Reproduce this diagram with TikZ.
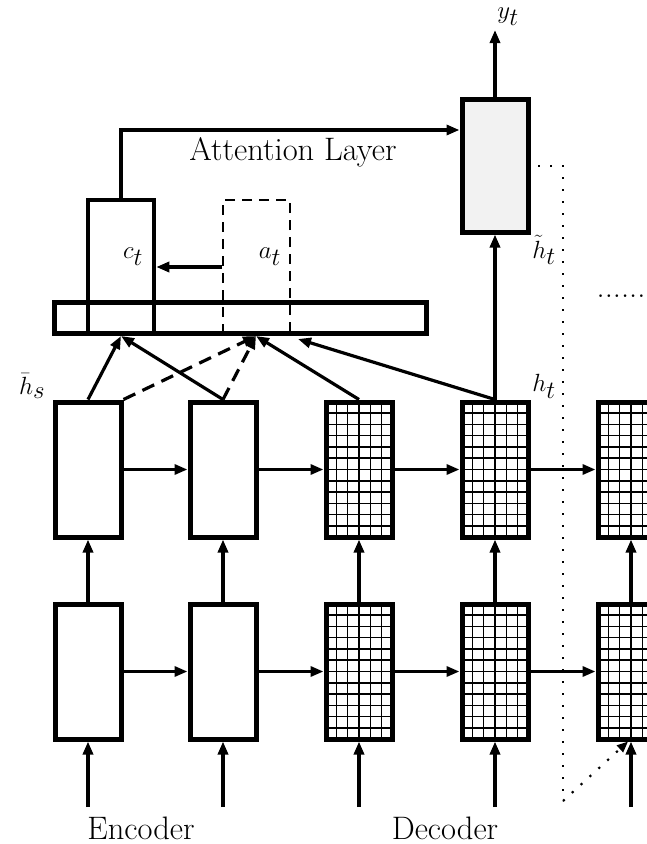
\documentclass[tikz,border=0pt]{standalone}
\usetikzlibrary{arrows.meta}
\begin{document}
\begin{tikzpicture}[x=1pt,y=-1pt,
  tip/.style={-{Triangle[length=13pt,width=10pt]}},
  conn/.style={line width=3.2pt, tip},
  cell/.style={draw, line width=5pt, fill=white, minimum width=66pt, minimum height=135pt, inner sep=0pt},
  gridcell/.style={cell, path picture={
      \draw[line width=1.5pt] ([xshift=-2pt,yshift=-2pt]path picture bounding box.south west)
        grid[step=11.3pt] ([xshift=2pt,yshift=2pt]path picture bounding box.north east);}},
  lab/.style={font=\fontsize{32.5}{38}\selectfont},
  mlab/.style={font=\fontsize{33}{38}\selectfont},
  dotline/.style={line width=2.2pt, dash pattern=on 2.2pt off 9.8pt},
]
\useasboundingbox (0,0) rectangle (647,844);
\clip (0,0) rectangle (647,844);

% recurrent cells, upper and lower rows
\node[cell]     (u1) at (88,469.5)  {};
\node[cell]     (u2) at (223,469.5) {};
\node[gridcell] (u3) at (359,469.5) {};
\node[gridcell] (u4) at (495,469.5) {};
\node[gridcell] (u5) at (631,469.5) {};
\node[cell]     (l1) at (88,671.5)  {};
\node[cell]     (l2) at (223,671.5) {};
\node[gridcell] (l3) at (359,671.5) {};
\node[gridcell] (l4) at (495,671.5) {};
\node[gridcell] (l5) at (631,671.5) {};

% inputs
\foreach \i/\x in {1/88,2/223,3/359,4/495,5/631}{
  \coordinate (in\i) at (\x,807);
  \draw[conn] (in\i) -- (l\i.south);
  \draw[conn] (l\i.north) -- (u\i.south);
}
% recurrent connections
\foreach \a/\b in {1/2,2/3,3/4,4/5}{
  \draw[conn] (u\a.east) -- (u\b.west);
  \draw[conn] (l\a.east) -- (l\b.west);
}

% attention layer
\node[draw, line width=5pt, fill=white, minimum width=372pt, minimum height=31pt, inner sep=0pt] (bar) at (240,318) {};
\node[draw, line width=4.5pt, minimum width=66pt, minimum height=133pt, inner sep=0pt] (ct) at (121,266.5) {};
\node[draw, line width=2pt, dash pattern=on 10pt off 7pt, minimum width=67pt, minimum height=133pt, inner sep=0pt] (at) at (256.5,266.5) {};
\node[mlab] (ctl) at (133,257) {$c_t$};
\node[mlab] (atl) at (270,257) {$a_t$};
\draw[conn] (at.west |- 0,267) -- (ct.east |- 0,267);

% inputs to the attention layer
\coordinate (b1) at (121,336);
\coordinate (b2) at (256,336);
\coordinate (b3) at (298,339);
\draw[conn] (u1.north) -- (b1);
\draw[conn] (u2.north) -- (b1);
\draw[conn, dash pattern=on 13pt off 8pt] (u1.north east) -- (b2);
\draw[conn, dash pattern=on 13pt off 8pt] (u2.north) -- (b2);
\draw[conn] (u3.north) -- (b2);
\draw[conn] (u4.north) -- (b3);

% output cell
\node[draw, line width=5pt, fill=black!5, minimum width=66pt, minimum height=133pt, inner sep=0pt] (out) at (495,165.5) {};
\coordinate (yt) at (495,30);
\draw[conn] (u4.north) -- (out.south);
\draw[conn] (out.north) -- (yt);
\coordinate (turn) at (121,130);
\draw[conn] (ct.north) -- (turn) -- (out.west |- turn);
\node[lab] (attn) at (293,152) {Attention Layer};

% labels
\node[mlab] (ytl) at (508,17) {$y_t$};
\node[mlab] (htt) at (544,250) {$\tilde{h}_t$};
\node[mlab] (ht) at (544,386) {$h_t$};
\node[mlab] (hs) at (32,386) {$\bar{h}_s$};
\node[lab] (more) at (621,296) {......};
\node[lab] (enc) at (141,828) {Encoder};
\node[lab] (dec) at (445,828) {Decoder};

% feedback of the output to the next step
\coordinate (d1) at (538,166);
\coordinate (d2) at (563,166);
\coordinate (d3) at (563,801);
\draw[dotline] (d1) -- (d2) -- (d3);
\draw[dotline, -{Triangle[length=11pt,width=9pt,sep=0pt]}] (d3) -- ([xshift=-3pt]l5.south);
\end{tikzpicture}
\end{document}
